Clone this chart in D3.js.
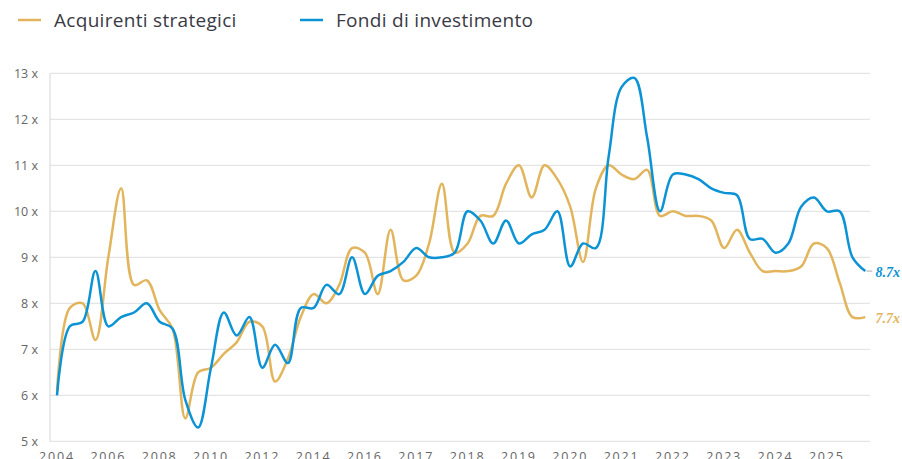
<!DOCTYPE html>
<meta charset="utf-8">
<head>
    <script src="https://d3js.org/d3.v7.min.js"></script>
    <style>
        body { margin: 0; background: #fff; }
        .tick-y { font-family: "Open Sans", sans-serif; font-size: 12.5px; fill: #666; }
        .tick-x { font-family: "Open Sans", sans-serif; font-size: 12.5px; fill: #666; letter-spacing: 1.8px; }
        .legend { font-family: "Open Sans", sans-serif; font-size: 19px; fill: #3a3a44; letter-spacing: 0.3px; }
        .endlabel { font-family: "Liberation Serif", serif; font-size: 14px; font-style: italic; font-weight: bold; }
    </style>
</head>
<body>
<div id="chart"></div>
<script>

    // quarterly multiples, 64 quarters
    var strategici = [
        6.08, 7.9, 8.0, 7.2, 9.0, 10.5, 8.4, 8.5, 7.85, 7.45,
        5.5, 6.5, 6.6, 6.9, 7.15, 7.6, 7.5, 6.3, 6.8, 7.7,
        8.2, 8.0, 8.4, 9.2, 9.1, 8.2, 9.6, 8.5, 8.6, 9.3,
        10.6, 9.1, 9.3, 9.9, 9.9, 10.6, 11.0, 10.3, 11.0, 10.7,
        10.1, 8.9, 10.5, 11.0, 10.8, 10.7, 10.9, 9.9, 10.0, 9.9,
        9.9, 9.8, 9.2, 9.6, 9.1, 8.7, 8.7, 8.7, 8.8, 9.3,
        9.2, 8.45, 7.7, 7.7
    ];
    var fondi = [
        6.0, 7.5, 7.6, 8.7, 7.5, 7.7, 7.8, 8.0, 7.6, 7.45,
        5.9, 5.3, 6.6, 7.8, 7.3, 7.7, 6.6, 7.1, 6.7, 7.9,
        7.9, 8.4, 8.2, 9.0, 8.2, 8.6, 8.7, 8.9, 9.2, 9.0,
        9.0, 9.1, 10.0, 9.8, 9.3, 9.8, 9.3, 9.5, 9.6, 10.0,
        8.8, 9.3, 9.2, 11.2, 12.7, 12.9, 11.6, 10.0, 10.8, 10.8,
        10.7, 10.5, 10.4, 10.35, 9.4, 9.4, 9.1, 9.3, 10.1, 10.3,
        10.0, 10.0, 9.0, 8.7
    ];
    // one label every 4 quarters, as printed on the original
    var xLabels = ["2004", "2006", "2008", "2010", "2012", "2014", "2016", "2017",
        "2018", "2019", "2020", "2021", "2022", "2023", "2024", "2025"];
    var yTicks = [5, 6, 7, 8, 9, 10, 11, 12, 13];

    var seriesNames = ["Acquirenti strategici", "Fondi di investimento"];
    var colors = ["#e2b55c", "#0b93d5"];
    var endText = ["7.7x", "8.7x"];

    var W = 902, H = 459;
    var plot = { left: 50, right: 870, top: 73.3, bottom: 441.3 };

    var svg = d3.select("#chart").append("svg")
        .attr("width", W)
        .attr("height", H);

    var x = d3.scaleLinear().domain([0, fondi.length - 1]).range([57, 865.3]);
    var y = d3.scaleLinear().domain([5, 13]).range([plot.bottom, plot.top]);

    // grid lines
    svg.append("g").selectAll("line")
        .data(yTicks)
        .enter().append("line")
        .attr("x1", plot.left).attr("x2", plot.right)
        .attr("y1", function (d) { return y(d); })
        .attr("y2", function (d) { return y(d); })
        .attr("stroke", "#dedede")
        .attr("stroke-width", 1);

    // left axis line
    svg.append("line")
        .attr("x1", plot.left).attr("x2", plot.left)
        .attr("y1", plot.top).attr("y2", plot.bottom)
        .attr("stroke", "#d6d6d6");

    // y labels
    svg.append("g").selectAll("text")
        .data(yTicks)
        .enter().append("text")
        .attr("class", "tick-y")
        .attr("x", 38)
        .attr("y", function (d) { return y(d); })
        .attr("dy", "0.35em")
        .attr("text-anchor", "end")
        .text(function (d) { return d + " x"; });

    // x labels
    svg.append("g").selectAll("text")
        .data(xLabels)
        .enter().append("text")
        .attr("class", "tick-x")
        .attr("x", function (d, i) { return x(i * 4); })
        .attr("y", 461)
        .attr("text-anchor", "middle")
        .text(function (d) { return d; });

    var line = d3.line()
        .x(function (d, i) { return x(i); })
        .y(function (d) { return y(d); })
        .curve(d3.curveCatmullRom.alpha(0.5));

    [strategici, fondi].forEach(function (vals, k) {
        svg.append("path")
            .datum(vals)
            .attr("fill", "none")
            .attr("stroke", colors[k])
            .attr("stroke-width", 2.5)
            .attr("stroke-linejoin", "round")
            .attr("d", line);
    });

    // small leader near the last blue value
    svg.append("line")
        .attr("x1", x(fondi.length - 1) + 1).attr("x2", x(fondi.length - 1) + 7)
        .attr("y1", y(fondi[fondi.length - 1])).attr("y2", y(fondi[fondi.length - 1]))
        .attr("stroke", "#c8c8c8").attr("stroke-width", 1.5);

    // end labels
    [strategici, fondi].forEach(function (vals, k) {
        svg.append("text")
            .attr("class", "endlabel")
            .attr("x", 875.5)
            .attr("y", y(vals[vals.length - 1]) + 1)
            .attr("dy", "0.35em")
            .attr("fill", colors[k])
            .text(endText[k]);
    });

    // legend
    var legendX = [18, 300];
    seriesNames.forEach(function (name, k) {
        var g = svg.append("g").attr("transform", "translate(" + legendX[k] + ",20)");
        g.append("line")
            .attr("x1", 0).attr("x2", 23)
            .attr("stroke", colors[k]).attr("stroke-width", 2.5);
        g.append("text")
            .attr("class", "legend")
            .attr("x", 36)
            .attr("y", 7)
            .text(name);
    });

</script>
</body>
